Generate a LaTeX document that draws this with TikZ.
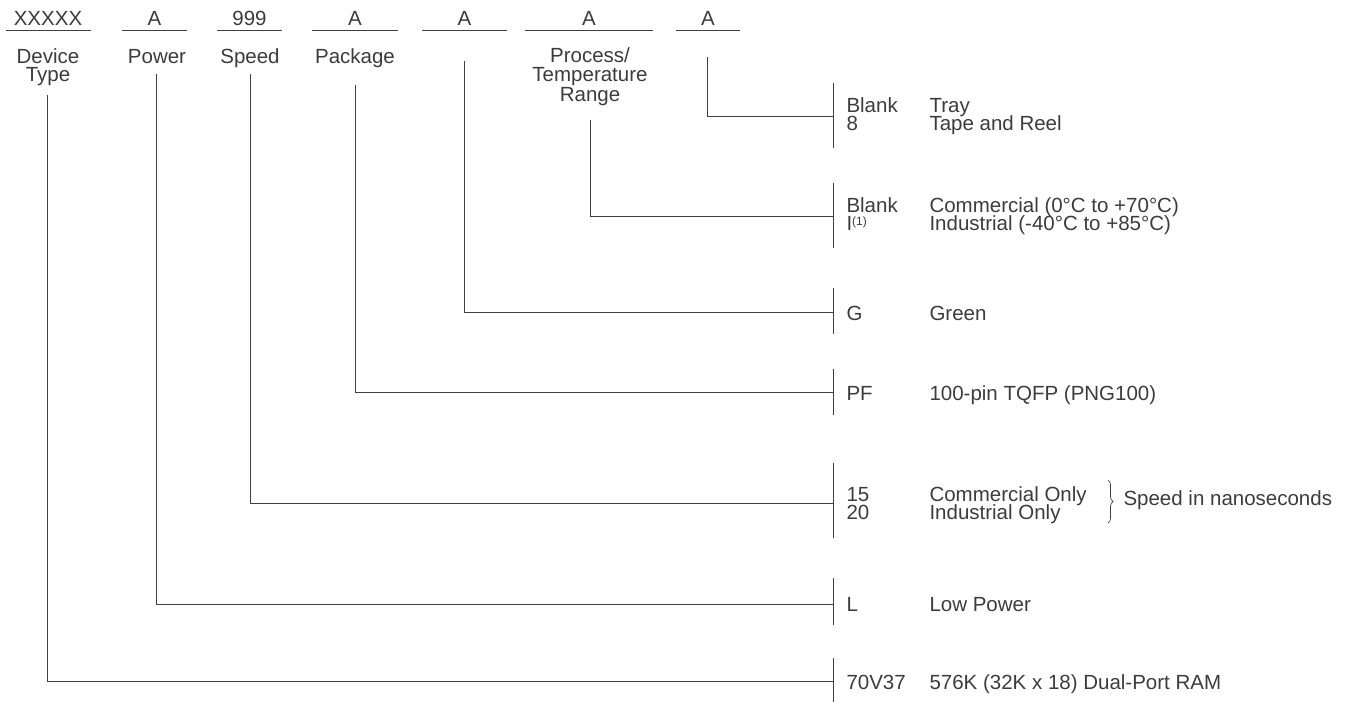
\documentclass[tikz,border=0pt]{standalone}
\usepackage{fontspec}
\setmainfont{Liberation Sans}
\usetikzlibrary{positioning, decorations.pathreplacing}
\definecolor{ink}{HTML}{3C3C3C}
\definecolor{rule}{HTML}{404040}

\begin{document}
\begin{tikzpicture}[x=1pt,y=-1pt,line width=1pt,draw=rule,text=ink,
 font=\fontsize{20.5}{18}\selectfont,
 field/.style={anchor=base,inner sep=0pt,text height=14pt,text depth=3pt},
 entry/.style={anchor=base west,inner sep=0pt}]

  \useasboundingbox (0,0) rectangle (1354,702);

  % fields of the part number
  \foreach \n/\x/\w/\t in {dev/48/85/XXXXX, pow/154.5/65/A, spd/249.5/65/999,
    pkg/355/86/A, grn/464.5/85/A, tmp/589/128/A, pak/708/64/A} {
   \node[field] (f-\n) at (\x,25) {\t};
   \draw ({\x-\w/2},30) -- ({\x+\w/2},30);}

  \node[field] (l-dev) at (48,63) {Device};
  \node[field] (l-dev2) at (48,81.5) {Type};
  \node[field] (l-pow) at (157,63) {Power};
  \node[field] (l-spd) at (250,63) {Speed};
  \node[field] (l-pkg) at (355,63) {Package};
  \node[field] (l-tmp) at (590,62) {Process/};
  \node[field] (l-tmp2) at (590,81.5) {Temperature};
  \node[field] (l-tmp3) at (590,101) {Range};

  % leaders and bars
  \foreach \n/\x/\yt/\yh/\bt/\bb in {dev/47/95/681.5/658/702, pow/156.5/74/604/578/625,
    spd/250/74/503/463/538, pkg/355/85/392/369/415, grn/464/61/312.5/288/334,
    tmp/590/120/216/183/248, pak/707/57/116/83/148} {
   \coordinate (c-\n) at (\x,\yt);
   \coordinate (b-\n) at (833.5,\yh);
   \coordinate (t-\n) at (833.5,\bt);
   \coordinate (e-\n) at (833.5,\bb);
   \draw (c-\n) |- (b-\n);
   \draw (t-\n) -- (e-\n);}

  % codes and meanings
  \foreach \n/\y/\c/\d in {a/112/Blank/Tray, b/130/8/Tape and Reel,
    c/212/Blank/{Commercial (0°C to +70°C)},
    d/230/{I\raisebox{5pt}{\fontsize{12}{12}\selectfont(1)}}/{Industrial (-40°C to +85°C)},
    e/320.5/G/Green, f/400/PF/{100-pin TQFP (PNG100)},
    g/501/15/Commercial Only, h/519/20/Industrial Only,
    i/611.5/L/Low Power, j/689/70V37/{576K (32K x 18) Dual-Port RAM}} {
   \node[entry] (k-\n) at (846,\y) {\c};
   \node[entry] (m-\n) at (929,\y) {\d};}

  \coordinate (s1) at (1108,480);
  \coordinate (s2) at (1108,523);
  \draw[line width=0.7pt,decorate,decoration={brace,amplitude=5pt}] (s1) -- (s2);
  \node[entry] (speed) at (1123,505.5) {Speed in nanoseconds};

\end{tikzpicture}
\end{document}
